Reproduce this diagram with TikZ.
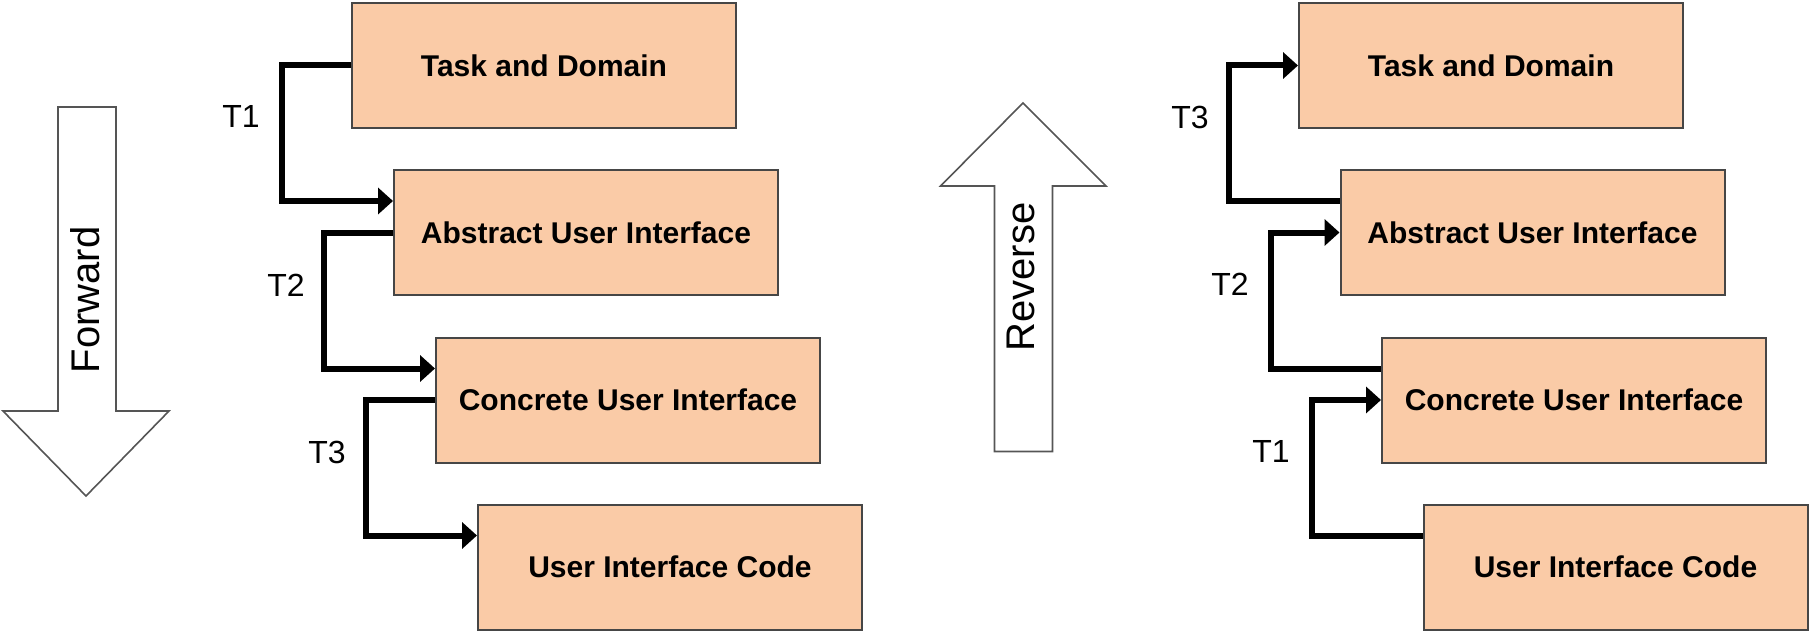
\documentclass[tikz,border=0pt]{standalone}
\usepackage{fontspec}
\setmainfont{Liberation Sans}
\usetikzlibrary{arrows.meta,calc}

\definecolor{boxfill}{RGB}{250,203,167}
\definecolor{boxline}{RGB}{70,70,70}
\definecolor{bigline}{RGB}{85,85,85}

\tikzset{
  layer/.style={draw=boxline, line width=2pt, fill=boxfill,
    minimum width=384pt, minimum height=125pt, inner sep=0pt,
    font=\fontsize{30}{35}\selectfont\bfseries},
  conn/.style={line width=6pt, draw=black, line join=miter,
    -{Triangle[length=15pt,width=26pt]}},
  tlabel/.style={font=\fontsize{32}{37}\selectfont, inner sep=0pt},
  bigarrow/.style={draw=bigline, line width=1.6pt, fill=white, line join=miter},
  arrowtext/.style={font=\fontsize{40}{46}\selectfont, rotate=90, inner sep=0pt}
}

\begin{document}
\begin{tikzpicture}[x=1pt, y=-1pt]
  \useasboundingbox (0,0) rectangle (1809,634);
  \fill[white] (0,0) rectangle (1809,634);

  % ---------- forward engineering ----------
  \draw[bigarrow] (58,107) -- (116,107) -- (116,411) -- (169,411)
    -- (86,496) -- (3,411) -- (58,411) -- cycle;
  \node[arrowtext] (fwd) at (85,300) {Forward};

  \node[layer] (fTask) at (544,65.5)   {Task and Domain};
  \node[layer] (fAbs)  at (586,232.5)  {Abstract User Interface};
  \node[layer] (fCon)  at (628,400)    {Concrete User Interface};
  \node[layer] (fCode) at (670,567)    {User Interface Code};

  \coordinate (fAbsIn)  at ($(fAbs.north west)+(0,32)$);
  \coordinate (fConIn)  at ($(fCon.north west)+(0,32)$);
  \coordinate (fCodeIn) at ($(fCode.north west)+(0,32)$);

  \draw[conn] (fTask.west) -- ++(-69,0) |- (fAbsIn);
  \draw[conn] (fAbs.west)  -- ++(-69,0) |- (fConIn);
  \draw[conn] (fCon.west)  -- ++(-69,0) |- (fCodeIn);

  \node[tlabel] (fT1) at (241,116.5) {T1};
  \node[tlabel] (fT2) at (286,285)   {T2};
  \node[tlabel] (fT3) at (327,452)   {T3};

  % ---------- reverse engineering ----------
  \draw[bigarrow] (994.5,451.5) -- (1052.5,451.5) -- (1052.5,186) -- (1106,186)
    -- (1023,103) -- (940.5,186) -- (994.5,186) -- cycle;
  \node[arrowtext] (rev) at (1021,277) {Reverse};

  \node[layer] (rTask) at (1491,65.5)   {Task and Domain};
  \node[layer] (rAbs)  at (1532.5,232.5) {Abstract User Interface};
  \node[layer] (rCon)  at (1574,400)    {Concrete User Interface};
  \node[layer] (rCode) at (1615.5,567)  {User Interface Code};

  \coordinate (rAbsOut)  at ($(rAbs.north west)+(0,32)$);
  \coordinate (rConOut)  at ($(rCon.north west)+(0,32)$);
  \coordinate (rCodeOut) at ($(rCode.north west)+(0,32)$);

  \draw[conn] (rAbsOut)  -| ($(rTask.west)+(-69,0)$) -- (rTask.west);
  \draw[conn] (rConOut)  -| ($(rAbs.west)+(-69,0)$)  -- (rAbs.west);
  \draw[conn] (rCodeOut) -| ($(rCon.west)+(-69,0)$)  -- (rCon.west);

  \node[tlabel] (rT3) at (1190,117.5) {T3};
  \node[tlabel] (rT2) at (1230,284)   {T2};
  \node[tlabel] (rT1) at (1271,451.5) {T1};
\end{tikzpicture}
\end{document}
